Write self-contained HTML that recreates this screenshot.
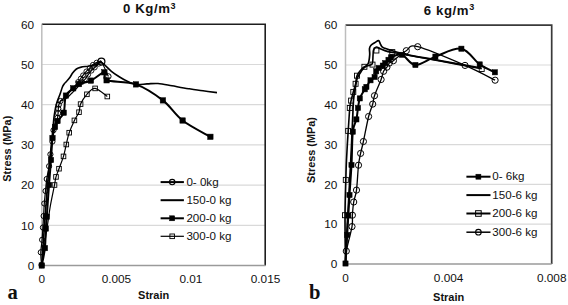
<!DOCTYPE html>
<html><head><meta charset="utf-8"><title>Stress-strain</title>
<style>
html,body{margin:0;padding:0;background:#fff;}
body{width:568px;height:305px;overflow:hidden;font-family:"Liberation Sans",sans-serif;}
svg{display:block;}
</style></head><body>
<svg width="568" height="305" viewBox="0 0 568 305" font-family="Liberation Sans, sans-serif" fill="#000"><line x1="42.0" y1="225.3" x2="265.0" y2="225.3" stroke="#d9d9d9" stroke-width="1.2"/><line x1="42.0" y1="185.1" x2="265.0" y2="185.1" stroke="#d9d9d9" stroke-width="1.2"/><line x1="42.0" y1="144.9" x2="265.0" y2="144.9" stroke="#d9d9d9" stroke-width="1.2"/><line x1="42.0" y1="104.7" x2="265.0" y2="104.7" stroke="#d9d9d9" stroke-width="1.2"/><line x1="42.0" y1="64.5" x2="265.0" y2="64.5" stroke="#d9d9d9" stroke-width="1.2"/><path d="M41.8 24.3 H265.2 V265.5" fill="none" stroke="#1e1e1e" stroke-width="1.6"/><line x1="41.8" y1="24.3" x2="41.8" y2="265.5" stroke="#bdbdbd" stroke-width="1.5"/><line x1="41.8" y1="265.5" x2="265.5" y2="265.5" stroke="#9a9a9a" stroke-width="1.4"/><path d="M41.8 265.5 C42.2 262.1 43.5 251.8 44.5 245.0 C45.5 238.2 46.5 231.7 47.5 225.0 C48.5 218.3 49.3 211.7 50.5 205.0 C51.7 198.3 53.6 189.7 54.5 185.0 C55.4 180.3 55.2 179.6 56.0 176.9 C56.8 174.2 57.8 172.1 59.0 168.7 C60.2 165.3 62.3 160.4 63.5 156.4 C64.7 152.4 65.3 148.4 66.3 144.5 C67.2 140.6 67.8 136.7 69.2 132.7 C70.6 128.7 72.8 123.8 74.4 120.4 C76.0 117.0 78.0 114.9 79.0 112.2 C80.0 109.5 79.3 107.1 80.6 104.1 C81.9 101.1 84.5 96.9 86.9 94.3 C89.3 91.7 91.7 88.0 95.1 88.4 C98.5 88.8 105.3 95.2 107.3 96.5" fill="none" stroke="#000" stroke-width="1.2"/><rect x="52.2" y="182.7" width="4.6" height="4.6" fill="none" stroke="#000" stroke-width="0.9"/><rect x="53.7" y="174.6" width="4.6" height="4.6" fill="none" stroke="#000" stroke-width="0.9"/><rect x="56.7" y="166.4" width="4.6" height="4.6" fill="none" stroke="#000" stroke-width="0.9"/><rect x="61.2" y="154.1" width="4.6" height="4.6" fill="none" stroke="#000" stroke-width="0.9"/><rect x="64.0" y="142.2" width="4.6" height="4.6" fill="none" stroke="#000" stroke-width="0.9"/><rect x="66.9" y="130.4" width="4.6" height="4.6" fill="none" stroke="#000" stroke-width="0.9"/><rect x="72.1" y="118.1" width="4.6" height="4.6" fill="none" stroke="#000" stroke-width="0.9"/><rect x="76.7" y="109.9" width="4.6" height="4.6" fill="none" stroke="#000" stroke-width="0.9"/><rect x="78.3" y="101.8" width="4.6" height="4.6" fill="none" stroke="#000" stroke-width="0.9"/><rect x="84.6" y="92.0" width="4.6" height="4.6" fill="none" stroke="#000" stroke-width="0.9"/><rect x="92.8" y="86.1" width="4.6" height="4.6" fill="none" stroke="#000" stroke-width="0.9"/><rect x="105.0" y="94.2" width="4.6" height="4.6" fill="none" stroke="#000" stroke-width="0.9"/><path d="M41.5 265.0 C41.4 262.9 40.7 256.5 40.8 252.3 C40.9 248.1 41.8 243.9 42.1 239.8 C42.5 235.7 42.6 231.5 42.9 227.5 C43.1 223.5 43.4 220.0 43.6 216.0 C43.8 212.0 44.0 207.7 44.3 203.5 C44.6 199.3 45.1 195.1 45.5 191.0 C45.9 186.9 46.1 183.1 46.7 179.0 C47.3 174.9 48.5 170.3 49.1 166.2 C49.7 162.1 49.9 158.5 50.4 154.4 C50.9 150.3 51.9 145.6 52.4 141.6 C52.9 137.6 52.9 133.5 53.5 130.2 C54.1 126.9 55.3 124.1 56.0 122.0 C56.7 119.9 57.1 119.3 57.5 117.8 C57.9 116.3 58.0 114.7 58.1 113.2 C58.2 111.7 58.2 110.0 58.3 108.6 C58.4 107.2 58.4 106.0 58.8 104.7 C59.2 103.4 59.6 102.1 60.5 101.0 C61.4 99.9 62.8 99.1 64.0 98.0 C65.2 96.9 66.3 95.8 67.5 94.5 C68.7 93.2 69.8 91.8 71.0 90.5 C72.2 89.2 73.3 87.9 74.5 86.5 C75.7 85.1 77.0 83.3 78.0 82.0 C79.0 80.7 79.9 79.6 80.7 78.5 C81.5 77.4 82.1 76.5 83.0 75.3 C83.9 74.1 85.2 72.6 86.3 71.4 C87.4 70.2 88.5 69.2 89.6 68.1 C90.7 67.0 91.6 65.7 92.8 64.8 C94.0 63.9 95.1 63.1 96.5 62.6 C97.9 62.1 100.5 61.7 101.3 61.5" fill="none" stroke="#000" stroke-width="1.2"/><path d="M60.5 101.0 C61.2 100.8 63.2 100.2 64.5 99.5 C65.8 98.8 67.2 97.6 68.5 96.5 C69.8 95.4 70.8 94.2 72.0 93.0 C73.2 91.8 74.3 90.8 75.5 89.5 C76.7 88.2 77.9 86.8 79.0 85.5 C80.1 84.2 81.0 83.0 82.0 82.0 C83.0 81.0 84.0 80.5 85.0 79.3 C86.0 78.1 87.1 76.1 88.2 74.7 C89.3 73.3 90.4 71.9 91.5 70.7 C92.6 69.5 93.6 68.7 94.8 67.5 C96.0 66.3 97.6 64.8 98.7 63.8 C99.8 62.8 99.7 59.4 101.3 61.5 C102.9 63.6 107.2 73.9 108.4 76.4" fill="none" stroke="#000" stroke-width="1.2"/><circle cx="41.5" cy="265.0" r="2.6" fill="none" stroke="#000" stroke-width="1.0"/><circle cx="40.8" cy="252.3" r="2.6" fill="none" stroke="#000" stroke-width="1.0"/><circle cx="42.1" cy="239.8" r="2.6" fill="none" stroke="#000" stroke-width="1.0"/><circle cx="42.9" cy="227.5" r="2.6" fill="none" stroke="#000" stroke-width="1.0"/><circle cx="43.6" cy="216.0" r="2.6" fill="none" stroke="#000" stroke-width="1.0"/><circle cx="44.3" cy="203.5" r="2.6" fill="none" stroke="#000" stroke-width="1.0"/><circle cx="45.5" cy="191.0" r="2.6" fill="none" stroke="#000" stroke-width="1.0"/><circle cx="46.7" cy="179.0" r="2.6" fill="none" stroke="#000" stroke-width="1.0"/><circle cx="49.1" cy="166.2" r="2.6" fill="none" stroke="#000" stroke-width="1.0"/><circle cx="50.4" cy="154.4" r="2.6" fill="none" stroke="#000" stroke-width="1.0"/><circle cx="52.4" cy="141.6" r="2.6" fill="none" stroke="#000" stroke-width="1.0"/><circle cx="53.5" cy="130.2" r="2.6" fill="none" stroke="#000" stroke-width="1.0"/><circle cx="56.0" cy="122.0" r="2.6" fill="none" stroke="#000" stroke-width="1.0"/><circle cx="57.5" cy="117.8" r="2.6" fill="none" stroke="#000" stroke-width="1.0"/><circle cx="58.1" cy="113.2" r="2.6" fill="none" stroke="#000" stroke-width="1.0"/><circle cx="58.3" cy="108.6" r="2.6" fill="none" stroke="#000" stroke-width="1.0"/><circle cx="58.8" cy="104.7" r="2.6" fill="none" stroke="#000" stroke-width="1.0"/><circle cx="60.5" cy="101.0" r="2.6" fill="none" stroke="#000" stroke-width="1.0"/><circle cx="78.0" cy="82.0" r="2.4" fill="none" stroke="#000" stroke-width="0.9"/><circle cx="80.7" cy="78.5" r="2.4" fill="none" stroke="#000" stroke-width="0.9"/><circle cx="83.0" cy="75.3" r="2.4" fill="none" stroke="#000" stroke-width="0.9"/><circle cx="86.3" cy="71.4" r="2.4" fill="none" stroke="#000" stroke-width="0.9"/><circle cx="89.6" cy="68.1" r="2.4" fill="none" stroke="#000" stroke-width="0.9"/><circle cx="92.8" cy="64.8" r="2.4" fill="none" stroke="#000" stroke-width="0.9"/><circle cx="96.5" cy="62.6" r="2.4" fill="none" stroke="#000" stroke-width="0.9"/><circle cx="82.0" cy="82.0" r="2.4" fill="none" stroke="#000" stroke-width="0.9"/><circle cx="85.0" cy="79.3" r="2.4" fill="none" stroke="#000" stroke-width="0.9"/><circle cx="88.2" cy="74.7" r="2.4" fill="none" stroke="#000" stroke-width="0.9"/><circle cx="91.5" cy="70.7" r="2.4" fill="none" stroke="#000" stroke-width="0.9"/><circle cx="94.8" cy="67.5" r="2.4" fill="none" stroke="#000" stroke-width="0.9"/><circle cx="98.7" cy="63.8" r="2.4" fill="none" stroke="#000" stroke-width="0.9"/><circle cx="108.4" cy="76.4" r="2.7" fill="none" stroke="#000" stroke-width="1.0"/><circle cx="101.4" cy="61.6" r="3.5" fill="none" stroke="#000" stroke-width="1.2"/><path d="M41.8 265.5 C42.2 258.8 43.5 238.4 44.5 225.0 C45.5 211.6 46.5 197.5 47.5 185.0 C48.5 172.5 49.9 159.5 50.8 150.0 C51.7 140.5 52.5 133.3 53.0 128.0 C53.5 122.7 53.5 121.3 53.9 118.0 C54.3 114.7 55.0 110.8 55.5 108.0 C56.0 105.2 56.7 103.2 57.2 101.5 C57.7 99.8 58.1 99.0 58.7 97.5 C59.3 96.0 60.0 94.3 60.6 92.5 C61.2 90.7 61.9 88.2 62.5 86.7 C63.1 85.2 63.6 84.7 64.3 83.8 C65.0 82.9 65.8 82.2 66.7 81.2 C67.6 80.2 68.6 79.2 69.6 77.8 C70.6 76.4 71.7 74.3 72.8 72.8 C73.9 71.3 75.0 70.0 76.4 69.0 C77.8 68.0 79.2 67.6 81.2 67.1 C83.2 66.6 85.7 66.6 88.2 66.2 C90.7 65.8 93.9 65.2 96.1 64.6 C98.3 64.0 99.0 61.5 101.5 62.6 C104.0 63.7 108.4 68.9 111.4 71.3 C114.4 73.7 116.9 75.3 119.6 77.0 C122.3 78.7 125.1 80.3 127.8 81.5 C130.5 82.7 132.8 84.0 136.0 84.4 C139.2 84.8 143.3 84.1 147.0 83.9 C150.7 83.8 153.8 83.2 158.0 83.5 C162.2 83.8 166.9 84.9 172.0 85.8 C177.1 86.7 183.3 87.9 188.5 88.7 C193.7 89.5 198.2 90.2 203.0 90.8 C207.8 91.4 214.7 92.3 217.0 92.6" fill="none" stroke="#000" stroke-width="1.6"/><path d="M41.8 265.5 C42.3 262.6 44.2 254.3 44.9 248.1 C45.6 241.9 45.5 233.7 45.8 228.5 C46.1 223.3 46.3 223.9 46.8 216.7 C47.3 209.4 48.3 194.4 49.0 185.0 C49.7 175.6 50.4 167.8 51.0 160.0 C51.6 152.2 51.8 143.5 52.5 138.0 C53.2 132.5 54.2 129.8 55.0 127.0 C55.8 124.2 56.0 123.4 57.5 121.0 C59.0 118.6 62.3 116.9 63.7 112.7 C65.1 108.5 64.3 99.7 65.9 95.6 C67.5 91.5 71.0 90.2 73.2 88.3 C75.4 86.4 76.0 85.4 79.0 84.1 C82.0 82.8 86.7 82.6 90.9 80.6 C95.1 78.6 101.8 72.3 104.4 72.3 C107.0 72.2 101.3 78.3 106.6 80.3 C111.9 82.3 126.6 81.1 136.0 84.4 C145.4 87.8 155.1 94.4 162.9 100.4 C170.7 106.4 174.7 114.4 182.6 120.5 C190.5 126.6 205.8 134.1 210.4 136.8" fill="none" stroke="#000" stroke-width="2.0"/><rect x="39.1" y="262.8" width="5.4" height="5.4" fill="#000" stroke="#000" stroke-width="0.5"/><rect x="42.2" y="245.4" width="5.4" height="5.4" fill="#000" stroke="#000" stroke-width="0.5"/><rect x="43.1" y="225.8" width="5.4" height="5.4" fill="#000" stroke="#000" stroke-width="0.5"/><rect x="44.1" y="214.0" width="5.4" height="5.4" fill="#000" stroke="#000" stroke-width="0.5"/><rect x="46.3" y="182.3" width="5.4" height="5.4" fill="#000" stroke="#000" stroke-width="0.5"/><rect x="48.3" y="157.3" width="5.4" height="5.4" fill="#000" stroke="#000" stroke-width="0.5"/><rect x="49.8" y="135.3" width="5.4" height="5.4" fill="#000" stroke="#000" stroke-width="0.5"/><rect x="52.3" y="124.3" width="5.4" height="5.4" fill="#000" stroke="#000" stroke-width="0.5"/><rect x="54.8" y="118.3" width="5.4" height="5.4" fill="#000" stroke="#000" stroke-width="0.5"/><rect x="61.0" y="110.0" width="5.4" height="5.4" fill="#000" stroke="#000" stroke-width="0.5"/><rect x="63.2" y="92.9" width="5.4" height="5.4" fill="#000" stroke="#000" stroke-width="0.5"/><rect x="70.5" y="85.6" width="5.4" height="5.4" fill="#000" stroke="#000" stroke-width="0.5"/><rect x="76.3" y="81.4" width="5.4" height="5.4" fill="#000" stroke="#000" stroke-width="0.5"/><rect x="88.2" y="77.9" width="5.4" height="5.4" fill="#000" stroke="#000" stroke-width="0.5"/><rect x="101.7" y="69.6" width="5.4" height="5.4" fill="#000" stroke="#000" stroke-width="0.5"/><rect x="103.9" y="77.6" width="5.4" height="5.4" fill="#000" stroke="#000" stroke-width="0.5"/><rect x="133.3" y="81.7" width="5.4" height="5.4" fill="#000" stroke="#000" stroke-width="0.5"/><rect x="160.2" y="97.7" width="5.4" height="5.4" fill="#000" stroke="#000" stroke-width="0.5"/><rect x="179.9" y="117.8" width="5.4" height="5.4" fill="#000" stroke="#000" stroke-width="0.5"/><rect x="207.7" y="134.1" width="5.4" height="5.4" fill="#000" stroke="#000" stroke-width="0.5"/><line x1="346.0" y1="224.2" x2="551.0" y2="224.2" stroke="#d9d9d9" stroke-width="1.2"/><line x1="346.0" y1="184.4" x2="551.0" y2="184.4" stroke="#d9d9d9" stroke-width="1.2"/><line x1="346.0" y1="144.6" x2="551.0" y2="144.6" stroke="#d9d9d9" stroke-width="1.2"/><line x1="346.0" y1="104.8" x2="551.0" y2="104.8" stroke="#d9d9d9" stroke-width="1.2"/><line x1="346.0" y1="65.0" x2="551.0" y2="65.0" stroke="#d9d9d9" stroke-width="1.2"/><path d="M345.5 25.2 H551.7 V264" fill="none" stroke="#3a3a3a" stroke-width="1.7"/><line x1="345.5" y1="25.2" x2="345.5" y2="264" stroke="#bdbdbd" stroke-width="1.5"/><line x1="345.5" y1="264" x2="551.7" y2="264" stroke="#9a9a9a" stroke-width="1.4"/><path d="M345.5 263.5 C345.6 261.4 345.2 257.2 346.3 251.1 C347.4 244.9 351.0 232.6 352.0 226.6 C353.0 220.6 352.1 219.3 352.4 215.2 C352.7 211.1 353.0 206.2 353.7 202.0 C354.4 197.8 355.7 196.2 356.5 190.1 C357.3 184.0 357.8 171.3 358.5 165.2 C359.2 159.1 359.8 157.3 360.6 153.4 C361.4 149.5 362.1 147.7 363.4 141.5 C364.7 135.3 367.1 122.7 368.6 116.5 C370.2 110.3 371.7 107.6 372.7 104.1 C373.7 100.6 373.1 99.8 374.5 95.7 C375.9 91.6 379.6 83.6 381.1 79.5 C382.6 75.4 382.6 73.3 383.6 71.3 C384.6 69.2 385.9 68.6 386.9 67.2 C387.8 65.8 388.2 64.2 389.3 63.1 C390.4 62.0 390.6 62.8 393.4 60.7 C396.2 58.6 402.2 53.0 406.3 50.7 C410.4 48.4 407.9 44.2 417.7 46.7 C427.5 49.2 452.1 59.8 465.0 65.4 C477.9 71.0 490.1 77.7 495.1 80.2" fill="none" stroke="#000" stroke-width="1.3"/><circle cx="346.3" cy="251.1" r="3.1" fill="none" stroke="#000" stroke-width="1.0"/><circle cx="352.0" cy="226.6" r="3.1" fill="none" stroke="#000" stroke-width="1.0"/><circle cx="352.4" cy="215.2" r="3.1" fill="none" stroke="#000" stroke-width="1.0"/><circle cx="353.7" cy="202.0" r="3.1" fill="none" stroke="#000" stroke-width="1.0"/><circle cx="356.5" cy="190.1" r="3.1" fill="none" stroke="#000" stroke-width="1.0"/><circle cx="358.5" cy="165.2" r="3.1" fill="none" stroke="#000" stroke-width="1.0"/><circle cx="360.6" cy="153.4" r="3.1" fill="none" stroke="#000" stroke-width="1.0"/><circle cx="363.4" cy="141.5" r="3.1" fill="none" stroke="#000" stroke-width="1.0"/><circle cx="368.6" cy="116.5" r="3.1" fill="none" stroke="#000" stroke-width="1.0"/><circle cx="372.7" cy="104.1" r="3.1" fill="none" stroke="#000" stroke-width="1.0"/><circle cx="374.5" cy="95.7" r="3.1" fill="none" stroke="#000" stroke-width="1.0"/><circle cx="381.1" cy="79.5" r="3.1" fill="none" stroke="#000" stroke-width="1.0"/><circle cx="383.6" cy="71.3" r="3.1" fill="none" stroke="#000" stroke-width="1.0"/><circle cx="386.9" cy="67.2" r="3.1" fill="none" stroke="#000" stroke-width="1.0"/><circle cx="389.3" cy="63.1" r="3.1" fill="none" stroke="#000" stroke-width="1.0"/><circle cx="393.4" cy="60.7" r="3.1" fill="none" stroke="#000" stroke-width="1.0"/><circle cx="406.3" cy="50.7" r="3.1" fill="none" stroke="#000" stroke-width="1.0"/><circle cx="417.7" cy="46.7" r="3.1" fill="none" stroke="#000" stroke-width="1.0"/><circle cx="465.0" cy="65.4" r="3.1" fill="none" stroke="#000" stroke-width="1.0"/><circle cx="495.1" cy="80.2" r="3.1" fill="none" stroke="#000" stroke-width="1.0"/><path d="M345.5 263.5 C345.4 255.4 344.9 229.1 345.0 215.2 C345.1 201.3 345.6 189.1 345.8 179.9 C346.1 170.7 346.1 168.2 346.5 160.0 C346.9 151.8 347.6 139.6 348.2 130.9 C348.8 122.2 349.3 113.0 349.8 108.0 C350.3 103.0 350.5 103.3 351.1 100.6 C351.7 97.9 352.6 94.7 353.3 91.9 C354.1 89.1 355.0 86.5 355.6 83.8 C356.2 81.1 356.2 77.9 357.0 75.7 C357.8 73.5 359.3 72.0 360.5 70.5 C361.7 69.0 363.0 67.6 364.4 66.8 C365.8 66.0 367.3 66.0 368.6 65.5 C369.9 65.0 371.6 65.2 372.3 63.6 C373.0 62.0 372.8 58.3 373.0 56.0 C373.2 53.7 373.0 51.4 373.6 49.9 C374.2 48.4 375.3 47.2 376.4 47.0 C377.5 46.8 378.4 48.0 380.3 48.8 C382.2 49.6 384.2 50.7 388.0 51.6 C391.8 52.5 394.3 52.7 403.0 54.3 C411.7 55.9 426.9 58.6 440.0 61.0 C453.1 63.4 474.8 67.5 481.7 68.8" fill="none" stroke="#000" stroke-width="1.6"/><rect x="342.5" y="212.7" width="5.0" height="5.0" fill="none" stroke="#000" stroke-width="0.9"/><rect x="343.3" y="177.4" width="5.0" height="5.0" fill="none" stroke="#000" stroke-width="0.9"/><rect x="345.7" y="128.4" width="5.0" height="5.0" fill="none" stroke="#000" stroke-width="0.9"/><rect x="347.3" y="105.5" width="5.0" height="5.0" fill="none" stroke="#000" stroke-width="0.9"/><rect x="348.6" y="98.1" width="5.0" height="5.0" fill="none" stroke="#000" stroke-width="0.9"/><rect x="350.8" y="89.4" width="5.0" height="5.0" fill="none" stroke="#000" stroke-width="0.9"/><rect x="353.1" y="81.3" width="5.0" height="5.0" fill="none" stroke="#000" stroke-width="0.9"/><rect x="354.5" y="73.2" width="5.0" height="5.0" fill="none" stroke="#000" stroke-width="0.9"/><rect x="361.9" y="64.3" width="5.0" height="5.0" fill="none" stroke="#000" stroke-width="0.9"/><rect x="370.0" y="62.1" width="5.0" height="5.0" fill="none" stroke="#000" stroke-width="0.9"/><rect x="373.9" y="48.0" width="5.0" height="5.0" fill="none" stroke="#000" stroke-width="0.9"/><rect x="389.8" y="49.6" width="5.0" height="5.0" fill="none" stroke="#000" stroke-width="0.9"/><rect x="479.2" y="66.5" width="5.0" height="5.0" fill="none" stroke="#000" stroke-width="0.9"/><path d="M345.5 263.5 C345.8 257.9 346.4 242.2 347.0 230.0 C347.6 217.8 348.5 203.3 349.2 190.0 C349.9 176.7 350.7 161.7 351.3 150.0 C351.9 138.3 352.2 128.3 352.6 120.0 C353.0 111.7 353.1 105.0 353.5 100.0 C353.9 95.0 354.4 93.5 355.0 90.0 C355.6 86.5 356.1 81.9 357.0 79.0 C357.9 76.1 359.4 74.3 360.5 72.5 C361.6 70.7 362.3 69.8 363.6 68.3 C364.9 66.8 367.2 65.7 368.2 63.5 C369.2 61.3 369.5 57.5 369.7 55.0 C369.9 52.5 369.3 50.1 369.5 48.5 C369.7 46.9 370.1 46.2 371.0 45.2 C371.9 44.2 373.4 43.5 374.7 42.7 C376.0 42.0 377.7 40.5 378.6 40.7 C379.5 40.9 379.8 42.8 380.3 43.8 C380.8 44.8 381.1 45.9 381.8 46.6 C382.6 47.4 383.4 47.7 384.8 48.3 C386.2 48.9 387.0 49.1 390.0 50.0 C393.0 50.9 394.7 52.0 403.0 53.8 C411.3 55.6 426.9 58.2 440.0 60.6 C453.1 63.0 474.6 66.9 481.5 68.2" fill="none" stroke="#000" stroke-width="1.7"/><path d="M345.5 263.5 C345.8 258.8 346.7 243.0 347.2 235.0 C347.7 227.0 347.9 222.2 348.3 215.5 C348.7 208.8 349.0 203.4 349.5 195.0 C350.0 186.6 350.9 175.6 351.5 165.0 C352.1 154.4 352.0 139.3 352.8 131.7 C353.6 124.1 355.5 123.4 356.4 119.4 C357.3 115.5 357.4 111.5 358.0 108.0 C358.6 104.5 358.7 101.5 359.8 98.4 C360.9 95.3 363.7 91.2 364.8 89.3 C365.9 87.4 365.4 88.4 366.4 86.9 C367.3 85.4 369.1 82.0 370.5 80.3 C371.9 78.6 373.7 78.5 374.6 77.0 C375.6 75.5 375.5 72.8 376.2 71.3 C376.9 69.8 377.6 69.0 378.7 68.0 C379.8 67.0 381.7 66.4 382.8 65.6 C383.9 64.8 384.2 64.1 385.2 63.1 C386.1 62.1 387.5 60.8 388.5 59.8 C389.5 58.8 388.8 58.2 391.0 57.4 C393.2 56.6 397.9 53.5 402.0 54.8 C406.1 56.1 409.8 64.7 415.4 65.0 C421.0 65.3 427.7 59.3 435.4 56.6 C443.1 53.9 454.0 47.4 461.4 48.7 C468.8 50.0 474.1 60.5 479.7 64.4 C485.3 68.3 492.4 71.0 494.9 72.3" fill="none" stroke="#000" stroke-width="2.0"/><rect x="342.9" y="260.9" width="5.2" height="5.2" fill="#000" stroke="#000" stroke-width="0.5"/><rect x="344.6" y="232.4" width="5.2" height="5.2" fill="#000" stroke="#000" stroke-width="0.5"/><rect x="345.7" y="212.9" width="5.2" height="5.2" fill="#000" stroke="#000" stroke-width="0.5"/><rect x="346.9" y="192.4" width="5.2" height="5.2" fill="#000" stroke="#000" stroke-width="0.5"/><rect x="348.9" y="162.4" width="5.2" height="5.2" fill="#000" stroke="#000" stroke-width="0.5"/><rect x="350.2" y="129.1" width="5.2" height="5.2" fill="#000" stroke="#000" stroke-width="0.5"/><rect x="353.8" y="116.8" width="5.2" height="5.2" fill="#000" stroke="#000" stroke-width="0.5"/><rect x="355.4" y="105.4" width="5.2" height="5.2" fill="#000" stroke="#000" stroke-width="0.5"/><rect x="357.2" y="95.8" width="5.2" height="5.2" fill="#000" stroke="#000" stroke-width="0.5"/><rect x="362.2" y="86.7" width="5.2" height="5.2" fill="#000" stroke="#000" stroke-width="0.5"/><rect x="363.8" y="84.3" width="5.2" height="5.2" fill="#000" stroke="#000" stroke-width="0.5"/><rect x="367.9" y="77.7" width="5.2" height="5.2" fill="#000" stroke="#000" stroke-width="0.5"/><rect x="372.0" y="74.4" width="5.2" height="5.2" fill="#000" stroke="#000" stroke-width="0.5"/><rect x="373.6" y="68.7" width="5.2" height="5.2" fill="#000" stroke="#000" stroke-width="0.5"/><rect x="376.1" y="65.4" width="5.2" height="5.2" fill="#000" stroke="#000" stroke-width="0.5"/><rect x="380.2" y="63.0" width="5.2" height="5.2" fill="#000" stroke="#000" stroke-width="0.5"/><rect x="382.6" y="60.5" width="5.2" height="5.2" fill="#000" stroke="#000" stroke-width="0.5"/><rect x="385.9" y="57.2" width="5.2" height="5.2" fill="#000" stroke="#000" stroke-width="0.5"/><rect x="388.4" y="54.8" width="5.2" height="5.2" fill="#000" stroke="#000" stroke-width="0.5"/><rect x="399.4" y="52.2" width="5.2" height="5.2" fill="#000" stroke="#000" stroke-width="0.5"/><rect x="412.8" y="62.4" width="5.2" height="5.2" fill="#000" stroke="#000" stroke-width="0.5"/><rect x="432.8" y="54.0" width="5.2" height="5.2" fill="#000" stroke="#000" stroke-width="0.5"/><rect x="458.8" y="46.1" width="5.2" height="5.2" fill="#000" stroke="#000" stroke-width="0.5"/><rect x="477.1" y="61.8" width="5.2" height="5.2" fill="#000" stroke="#000" stroke-width="0.5"/><rect x="492.3" y="69.7" width="5.2" height="5.2" fill="#000" stroke="#000" stroke-width="0.5"/><line x1="160.6" y1="182.1" x2="183.9" y2="182.1" stroke="#000" stroke-width="2.0"/><line x1="160.6" y1="200.2" x2="183.9" y2="200.2" stroke="#000" stroke-width="2.0"/><line x1="160.6" y1="218.3" x2="183.9" y2="218.3" stroke="#000" stroke-width="2.0"/><line x1="160.6" y1="236.3" x2="183.9" y2="236.3" stroke="#000" stroke-width="1.2"/><circle cx="172.2" cy="182.1" r="2.7" fill="none" stroke="#000" stroke-width="1.1"/><rect x="169.7" y="215.8" width="5.0" height="5.0" fill="#000" stroke="#000" stroke-width="0.5"/><rect x="169.9" y="234.0" width="4.6" height="4.6" fill="none" stroke="#000" stroke-width="0.9"/><line x1="466.4" y1="176.7" x2="490.5" y2="176.7" stroke="#000" stroke-width="2.0"/><line x1="466.4" y1="195.1" x2="490.5" y2="195.1" stroke="#000" stroke-width="2.0"/><line x1="466.4" y1="213.5" x2="490.5" y2="213.5" stroke="#000" stroke-width="2.0"/><line x1="466.4" y1="232.2" x2="490.5" y2="232.2" stroke="#000" stroke-width="1.5"/><rect x="475.9" y="174.2" width="5.0" height="5.0" fill="#000" stroke="#000" stroke-width="0.5"/><rect x="475.6" y="210.7" width="5.6" height="5.6" fill="none" stroke="#000" stroke-width="1.0"/><circle cx="478.4" cy="232.2" r="2.8" fill="none" stroke="#000" stroke-width="1.1"/><g fill="#111"><text x="34.2" y="269.7" font-size="11.8" text-anchor="end" font-weight="normal" >0</text><text x="34.2" y="229.5" font-size="11.8" text-anchor="end" font-weight="normal" >10</text><text x="34.2" y="189.3" font-size="11.8" text-anchor="end" font-weight="normal" >20</text><text x="34.2" y="149.1" font-size="11.8" text-anchor="end" font-weight="normal" >30</text><text x="34.2" y="108.9" font-size="11.8" text-anchor="end" font-weight="normal" >40</text><text x="34.2" y="68.7" font-size="11.8" text-anchor="end" font-weight="normal" >50</text><text x="34.2" y="28.5" font-size="11.8" text-anchor="end" font-weight="normal" >60</text><text x="41.8" y="282.6" font-size="11.8" text-anchor="middle" font-weight="normal" >0</text><text x="116.4" y="282.6" font-size="11.8" text-anchor="middle" font-weight="normal" >0.005</text><text x="190.9" y="282.6" font-size="11.8" text-anchor="middle" font-weight="normal" >0.01</text><text x="265.5" y="282.6" font-size="11.8" text-anchor="middle" font-weight="normal" >0.015</text><text x="337.4" y="268.2" font-size="11.8" text-anchor="end" font-weight="normal" >0</text><text x="337.4" y="228.4" font-size="11.8" text-anchor="end" font-weight="normal" >10</text><text x="337.4" y="188.6" font-size="11.8" text-anchor="end" font-weight="normal" >20</text><text x="337.4" y="148.8" font-size="11.8" text-anchor="end" font-weight="normal" >30</text><text x="337.4" y="109.0" font-size="11.8" text-anchor="end" font-weight="normal" >40</text><text x="337.4" y="69.2" font-size="11.8" text-anchor="end" font-weight="normal" >50</text><text x="337.4" y="29.4" font-size="11.8" text-anchor="end" font-weight="normal" >60</text><text x="345.5" y="281.5" font-size="11.8" text-anchor="middle" font-weight="normal" >0</text><text x="448.6" y="281.5" font-size="11.8" text-anchor="middle" font-weight="normal" >0.004</text><text x="551.7" y="281.5" font-size="11.8" text-anchor="middle" font-weight="normal" >0.008</text><text x="149.6" y="13.0" font-size="13.2" text-anchor="middle" font-weight="bold" letter-spacing="0.6">0 Kg/m<tspan font-size="9" dy="-4.5">3</tspan></text><text x="449.3" y="14.8" font-size="13.2" text-anchor="middle" font-weight="bold" letter-spacing="0.6">6 kg/m<tspan font-size="9" dy="-4.5">3</tspan></text><text x="153.7" y="298.9" font-size="11.0" text-anchor="middle" font-weight="bold" >Strain</text><text x="448.7" y="300.7" font-size="11.0" text-anchor="middle" font-weight="bold" >Strain</text><text transform="translate(10.7 181.7) rotate(-90)" font-size="11.8" font-weight="bold" textLength="66" lengthAdjust="spacingAndGlyphs">Stress (MPa)</text><text transform="translate(314.9 183.0) rotate(-90)" font-size="11.8" font-weight="bold" textLength="66" lengthAdjust="spacingAndGlyphs">Stress (MPa)</text><text x="7.6" y="299" font-family="Liberation Serif" font-size="20.6" font-weight="bold">a</text><text x="308.9" y="298.7" font-family="Liberation Serif" font-size="20.6" font-weight="bold">b</text><text x="186.4" y="185.8" font-size="11.6" text-anchor="start" font-weight="normal" >0- 0kg</text><text x="186.4" y="203.9" font-size="11.6" text-anchor="start" font-weight="normal" >150-0 kg</text><text x="186.4" y="222.0" font-size="11.6" text-anchor="start" font-weight="normal" >200-0 kg</text><text x="186.4" y="240.0" font-size="11.6" text-anchor="start" font-weight="normal" >300-0 kg</text><text x="492.3" y="180.1" font-size="11.6" text-anchor="start" font-weight="normal" >0- 6kg</text><text x="492.3" y="198.5" font-size="11.6" text-anchor="start" font-weight="normal" >150-6 kg</text><text x="492.3" y="216.9" font-size="11.6" text-anchor="start" font-weight="normal" >200-6 kg</text><text x="492.3" y="235.6" font-size="11.6" text-anchor="start" font-weight="normal" >300-6 kg</text></g></svg>
</body></html>
